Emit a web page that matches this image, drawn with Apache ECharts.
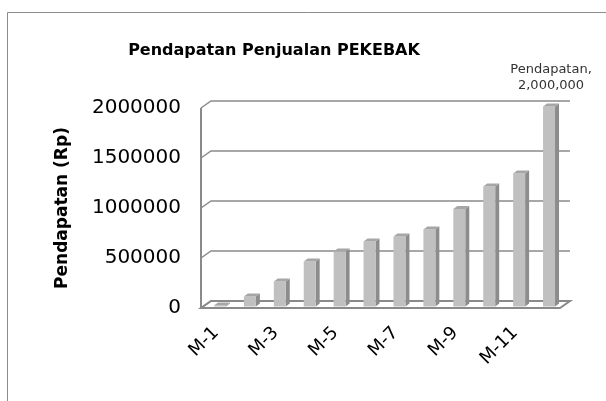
<!DOCTYPE html>
<html>
<head>
<meta charset="utf-8">
<script src="https://cdn.jsdelivr.net/npm/echarts@6/dist/echarts.min.js"></script>
<style>
  html, body { margin: 0; padding: 0; background: #fff; }
  #main { width: 606px; height: 401px; }
</style>
</head>
<body>
<div id="main"></div>
<script>
// data
var categories = ['M-1', 'M-2', 'M-3', 'M-4', 'M-5', 'M-6', 'M-7', 'M-8', 'M-9', 'M-10', 'M-11', 'M-12'];
var pendapatan = [10000, 100000, 250000, 450000, 550000, 650000, 700000, 770000, 975000, 1200000, 1330000, 2000000];
var yTicks = [0, 500000, 1000000, 1500000, 2000000];
var seriesName = 'Pendapatan';

// depth of the back wall and of each bar (px)
var WALL_DX = 10, WALL_DY = -7;
var BAR_DX = 4, BAR_DY = -3;
var gridColor = '#8a8a8a';

function fmt(n) {
  return String(n).replace(/\B(?=(\d{3})+(?!\d))/g, ',');
}

function renderWalls(params, api) {
  var cs = params.coordSys;
  var x0 = cs.x, x1 = cs.x + cs.width;
  var y0 = api.coord([0, 0])[1];
  var yTop = api.coord([0, yTicks[yTicks.length - 1]])[1];
  var children = [];
  // floor
  children.push({
    type: 'polygon',
    shape: { points: [[x0, y0], [x1, y0], [x1 + WALL_DX, y0 + WALL_DY], [x0 + WALL_DX, y0 + WALL_DY]] },
    style: { fill: '#fff', stroke: gridColor, lineWidth: 2 }
  });
  // grid lines: left wall diagonal + back wall horizontal
  yTicks.forEach(function (t) {
    var y = api.coord([0, t])[1];
    children.push({
      type: 'polyline',
      shape: { points: [[x0, y], [x0 + WALL_DX, y + WALL_DY], [x1 + WALL_DX, y + WALL_DY]] },
      style: { stroke: gridColor, lineWidth: 1.5, fill: null }
    });
  });
  // left wall front edge
  children.push({
    type: 'line',
    shape: { x1: x0, y1: yTop, x2: x0, y2: y0 + 1 },
    style: { stroke: gridColor, lineWidth: 2 }
  });
  return { type: 'group', children: children };
}

function renderBar(params, api) {
  var i = api.value(0), v = api.value(1);
  var base = api.coord([i, 0]);
  var top = api.coord([i, v]);
  var bw = api.size([1, 0])[0] * 0.4;
  var xL = base[0] - bw / 2 + 4, xR = xL + bw;
  var yB = base[1] - 1.5, yT = top[1] - 1.5;
  var children = [
    {
      type: 'polygon',
      shape: { points: [[xR, yT], [xR + BAR_DX, yT + BAR_DY], [xR + BAR_DX, yB + BAR_DY], [xR, yB]] },
      style: { fill: '#8c8c8c' }
    },
    {
      type: 'rect',
      shape: { x: xL, y: yT, width: bw, height: yB - yT },
      style: { fill: '#c0c0c0' }
    },
    {
      type: 'polygon',
      shape: { points: [[xL, yT], [xR, yT], [xR + BAR_DX, yT + BAR_DY], [xL + BAR_DX, yT + BAR_DY]] },
      style: { fill: '#a6a6a6' }
    }
  ];
  if (i === pendapatan.length - 1) {
    children.push({
      type: 'text',
      style: {
        text: seriesName + ',\n' + fmt(v),
        x: xL + bw / 2 + 2, y: yT - 13,
        align: 'center', verticalAlign: 'bottom',
        fontFamily: 'DejaVu Sans', fontSize: 13, lineHeight: 16, fill: '#333'
      }
    });
  }
  return { type: 'group', children: children };
}

var chart = echarts.init(document.getElementById('main'));
var option = {
  animation: false,
  title: {
    text: 'Pendapatan Penjualan PEKEBAK',
    left: 269, top: 38, textAlign: 'center',
    textStyle: { fontFamily: 'DejaVu Sans', fontWeight: 'bold', fontSize: 16, color: '#000' }
  },
  graphic: [{
    type: 'polyline',
    shape: { points: [[7.5, 420], [7.5, 12.5], [620, 12.5]] },
    style: { stroke: '#8c8c8c', lineWidth: 1, fill: null }
  }],
  grid: { left: 201, right: 46, top: 108, bottom: 93 },
  xAxis: {
    type: 'category',
    data: categories,
    axisLine: { show: false },
    axisTick: { show: false },
    axisLabel: {
      interval: 1, rotate: 45, margin: 22,
      fontFamily: 'DejaVu Sans', fontSize: 18, color: '#000'
    }
  },
  yAxis: {
    type: 'value',
    min: 0, max: 2000000, interval: 500000,
    name: 'Pendapatan (Rp)',
    nameLocation: 'middle', nameGap: 130,
    nameTextStyle: { fontFamily: 'DejaVu Sans', fontWeight: 'bold', fontSize: 17, color: '#000' },
    axisLine: { show: false },
    axisTick: { show: false },
    splitLine: { show: false },
    axisLabel: {
      margin: 20, fontFamily: 'DejaVu Sans', fontSize: 20, color: '#000',
      formatter: function (v) { return String(v); }
    }
  },
  series: [
    {
      type: 'custom',
      renderItem: renderWalls,
      data: [[0, 0]],
      silent: true,
      z: 1
    },
    {
      type: 'custom',
      name: seriesName,
      renderItem: renderBar,
      data: pendapatan.map(function (v, i) { return [i, v]; }),
      encode: { x: 0, y: 1 },
      z: 2
    }
  ]
};
chart.setOption(option);
</script>
</body>
</html>
